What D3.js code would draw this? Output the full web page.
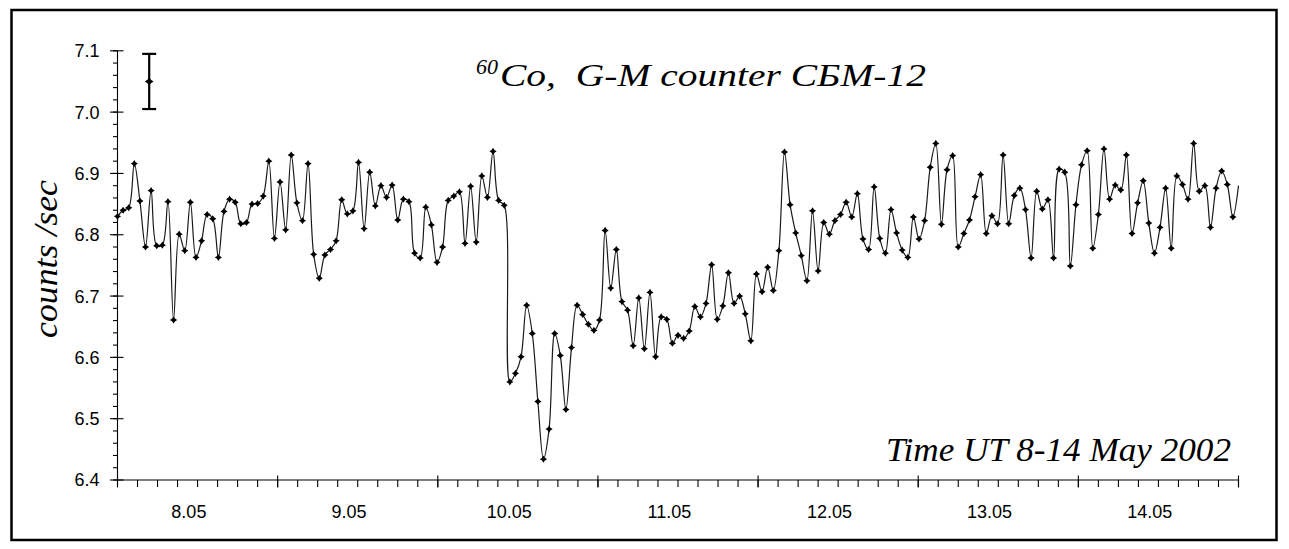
<!DOCTYPE html>
<html>
<head>
<meta charset="utf-8">
<script src="https://cdn.jsdelivr.net/npm/d3@7"></script>
<style>
  html, body { margin: 0; padding: 0; background: #fff; }
  svg { display: block; }
</style>
</head>
<body>
<svg id="chart" width="1289" height="549"></svg>
<script>
// ---- data ----
const dayLabels = ["8.05", "9.05", "10.05", "11.05", "12.05", "13.05", "14.05"];
const yTickValues = [6.4, 6.5, 6.6, 6.7, 6.8, 6.9, 7.0, 7.1];
const spanHours = 168;           // 8 May 00:00 UT .. 15 May 00:00 UT
const counts = [
  6.830, 6.840, 6.844, 6.916, 6.855, 6.780, 6.872, 6.782, 6.783, 6.854,
  6.661, 6.801, 6.774, 6.853, 6.763, 6.790, 6.833, 6.826, 6.763, 6.838,
  6.858, 6.853, 6.818, 6.820, 6.850, 6.851, 6.863, 6.920, 6.794, 6.886,
  6.808, 6.930, 6.852, 6.823, 6.916, 6.768, 6.729, 6.767, 6.776, 6.790,
  6.857, 6.834, 6.839, 6.918, 6.810, 6.902, 6.847, 6.880, 6.861, 6.881,
  6.824, 6.858, 6.854, 6.770, 6.762, 6.845, 6.816, 6.755, 6.780, 6.856,
  6.863, 6.870, 6.786, 6.879, 6.788, 6.896, 6.861, 6.936, 6.856, 6.848,
  6.560, 6.574, 6.601, 6.685, 6.639, 6.528, 6.434, 6.483, 6.639, 6.603,
  6.515, 6.616, 6.685, 6.670, 6.654, 6.644, 6.661, 6.807, 6.713, 6.776,
  6.691, 6.677, 6.619, 6.697, 6.614, 6.706, 6.601, 6.666, 6.662, 6.623,
  6.636, 6.631, 6.643, 6.683, 6.666, 6.688, 6.751, 6.662, 6.684, 6.738,
  6.688, 6.700, 6.671, 6.627, 6.736, 6.707, 6.747, 6.709, 6.774, 6.935,
  6.849, 6.803, 6.766, 6.725, 6.839, 6.741, 6.820, 6.801, 6.823, 6.833,
  6.853, 6.829, 6.867, 6.793, 6.776, 6.878, 6.794, 6.770, 6.841, 6.803,
  6.775, 6.763, 6.829, 6.793, 6.823, 6.910, 6.949, 6.817, 6.906, 6.929,
  6.780, 6.802, 6.824, 6.862, 6.898, 6.802, 6.831, 6.818, 6.930, 6.818,
  6.864, 6.876, 6.841, 6.762, 6.871, 6.842, 6.857, 6.762, 6.907, 6.902,
  6.749, 6.849, 6.914, 6.937, 6.778, 6.833, 6.940, 6.858, 6.881, 6.873,
  6.930, 6.802, 6.852, 6.888, 6.819, 6.770, 6.812, 6.876, 6.778, 6.896,
  6.882, 6.858, 6.949, 6.871, 6.880, 6.812, 6.876, 6.904, 6.882, 6.829,
  6.880
];
// typical error bar (hour position, mean, half-width)
const errHour = [4.75];
const errMean = [7.05];
const errHalf = [0.045];

(function () {
// ---- layout ----
const svg = d3.select("#chart");
const pLeft = 117.5, pRight = 1238.5, pTop = 50.8, pBottom = 480;

const x = d3.scaleLinear().domain([0, spanHours]).range([pLeft, pRight]);
const y = d3.scaleLinear().domain([6.4, 7.1]).range([pBottom, pTop]);

const step = spanHours / (counts.length - 1);
const pts = counts.map((v, i) => ({ t: i * step, v }));

// outer frame
svg.append("rect")
  .attr("x", 11.5).attr("y", 10)
  .attr("width", 1265).attr("height", 530)
  .attr("fill", "none").attr("stroke", "#000").attr("stroke-width", 2.5);

// ---- y axis ----
const gy = svg.append("g").attr("stroke", "#000").attr("stroke-width", 1.1);
gy.append("line").attr("x1", pLeft).attr("x2", pLeft).attr("y1", pTop).attr("y2", pBottom);
const yMinor = d3.range(6.4, 7.1001, 0.02);
gy.selectAll("line.minor").data(yMinor).enter().append("line")
  .attr("class", "minor")
  .attr("x1", pLeft - 4.5).attr("x2", pLeft)
  .attr("y1", d => y(d)).attr("y2", d => y(d));
gy.selectAll("line.major").data(yTickValues).enter().append("line")
  .attr("class", "major")
  .attr("x1", pLeft - 7.5).attr("x2", pLeft + 6)
  .attr("y1", d => y(d)).attr("y2", d => y(d));
svg.append("g").selectAll("text").data(yTickValues).enter().append("text")
  .attr("x", 99.5).attr("y", d => y(d))
  .attr("dy", "0.36em")
  .attr("text-anchor", "end")
  .attr("font-family", "Liberation Sans, Arial, sans-serif")
  .attr("font-size", 18)
  .text(d => d3.format(".1f")(d));

// ---- x axis ----
const gx = svg.append("g").attr("stroke", "#000").attr("stroke-width", 1.1);
gx.append("line").attr("x1", pLeft).attr("x2", pRight).attr("y1", pBottom).attr("y2", pBottom);
const xMinor = d3.range(0, spanHours + 0.01, 3);
gx.selectAll("line.minor").data(xMinor).enter().append("line")
  .attr("class", "minor")
  .attr("x1", d => x(d)).attr("x2", d => x(d))
  .attr("y1", pBottom).attr("y2", pBottom + 7);
const xMajor = d3.range(0, spanHours + 0.01, 24);
gx.selectAll("line.major").data(xMajor).enter().append("line")
  .attr("class", "major")
  .attr("x1", d => x(d)).attr("x2", d => x(d))
  .attr("y1", pBottom - 4.5).attr("y2", pBottom + 7.5);
svg.append("g").selectAll("text").data(dayLabels).enter().append("text")
  .attr("x", (d, i) => x(i * 24 + 10.7))
  .attr("y", 518)
  .attr("text-anchor", "middle")
  .attr("font-family", "Liberation Sans, Arial, sans-serif")
  .attr("font-size", 18)
  .text(d => d);

// ---- series ----
const line = d3.line()
  .x(d => x(d.t)).y(d => y(d.v))
  .curve(d3.curveCatmullRom.alpha(0.5));
svg.append("path").datum(pts)
  .attr("d", line)
  .attr("fill", "none")
  .attr("stroke", "#1a1a1a")
  .attr("stroke-width", 1.2);

const star = {
  draw(ctx, size) {
    const r = Math.sqrt(size) * 0.8, w = r * 0.4;
    ctx.moveTo(0, -r); ctx.lineTo(w, -w); ctx.lineTo(r, 0); ctx.lineTo(w, w);
    ctx.lineTo(0, r); ctx.lineTo(-w, w); ctx.lineTo(-r, 0); ctx.lineTo(-w, -w);
    ctx.closePath();
  }
};
svg.append("g").selectAll("path").data(pts.slice(0, pts.length - 1)).enter().append("path")
  .attr("transform", d => `translate(${x(d.t)},${y(d.v)})`)
  .attr("d", d3.symbol().type(star).size(20))
  .attr("fill", "#000");

// ---- error bar ----
const ge = svg.append("g").attr("stroke", "#000").attr("stroke-width", 2.2);
errHour.forEach((h, i) => {
  const cx = x(h);
  ge.append("line").attr("x1", cx).attr("x2", cx)
    .attr("y1", y(errMean[i] + errHalf[i])).attr("y2", y(errMean[i] - errHalf[i]));
  ge.append("line").attr("x1", cx - 7).attr("x2", cx + 7)
    .attr("y1", y(errMean[i] + errHalf[i])).attr("y2", y(errMean[i] + errHalf[i]));
  ge.append("line").attr("x1", cx - 7).attr("x2", cx + 7)
    .attr("y1", y(errMean[i] - errHalf[i])).attr("y2", y(errMean[i] - errHalf[i]));
  svg.append("path")
    .attr("transform", `translate(${cx},${y(errMean[i])})`)
    .attr("d", d3.symbol().type(star).size(30))
    .attr("fill", "#000");
});

// ---- texts ----
const serif = "Liberation Serif, Times New Roman, serif";
svg.append("text")
  .attr("x", 476).attr("y", 74)
  .attr("font-family", serif).attr("font-style", "italic")
  .attr("font-size", 22)
  .text("60");
svg.append("text")
  .attr("x", 500).attr("y", 86)
  .attr("font-family", serif).attr("font-style", "italic")
  .attr("font-size", 32)
  .attr("textLength", 426).attr("lengthAdjust", "spacingAndGlyphs")
  .style("white-space", "pre")
  .text("Co,  G-M counter СБМ-12");

svg.append("text")
  .attr("x", 886).attr("y", 461)
  .attr("font-family", serif).attr("font-style", "italic")
  .attr("font-size", 34)
  .attr("textLength", 345).attr("lengthAdjust", "spacingAndGlyphs")
  .text("Time UT 8-14 May 2002");

svg.append("text")
  .attr("transform", "translate(57,259) rotate(-90)")
  .attr("text-anchor", "middle")
  .attr("font-family", serif).attr("font-style", "italic")
  .attr("font-size", 33)
  .attr("textLength", 158).attr("lengthAdjust", "spacingAndGlyphs")
  .text("counts /sec");
})();
</script>
</body>
</html>
